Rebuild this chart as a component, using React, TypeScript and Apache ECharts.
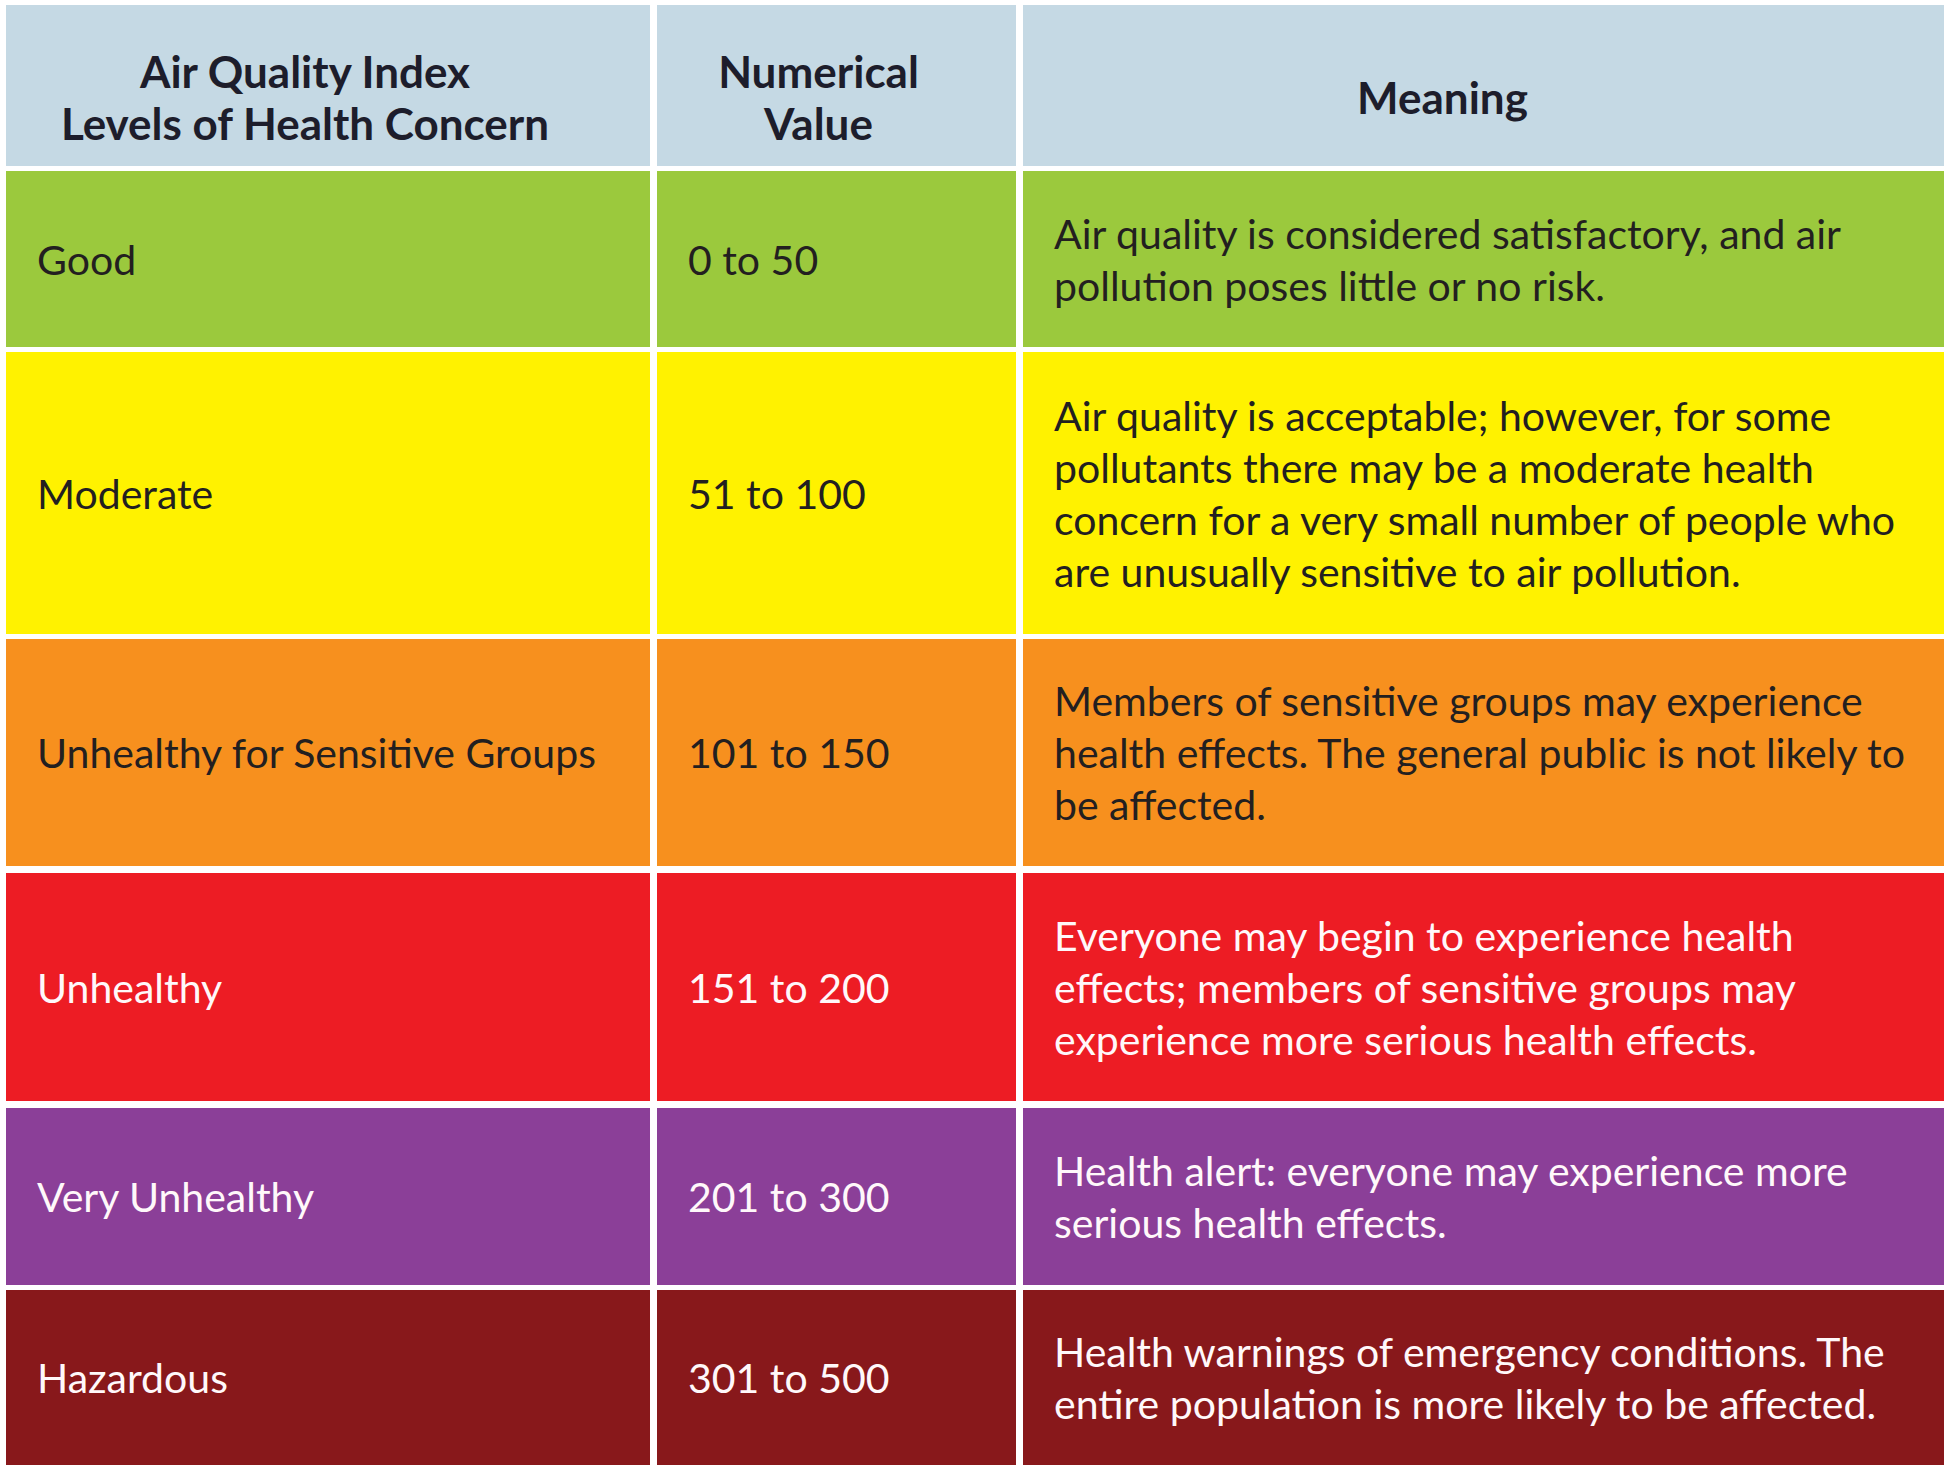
import React, { useEffect, useRef } from "react";
import * as echarts from "echarts";

// ---- content ----
const headers = [
  "Air Quality Index\nLevels of Health Concern",
  "Numerical\nValue",
  "Meaning",
];
const levels = [
  "Good",
  "Moderate",
  "Unhealthy for Sensitive Groups",
  "Unhealthy",
  "Very Unhealthy",
  "Hazardous",
];
const ranges = ["0 to 50", "51 to 100", "101 to 150", "151 to 200", "201 to 300", "301 to 500"];
const meanings = [
  "Air quality is considered satisfactory, and air\npollution poses little or no risk.",
  "Air quality is acceptable; however, for some\npollutants there may be a moderate health\nconcern for a very small number of people who\nare unusually sensitive to air pollution.",
  "Members of sensitive groups may experience\nhealth effects. The general public is not likely to\nbe affected.",
  "Everyone may begin to experience health\neffects; members of sensitive groups may\nexperience more serious health effects.",
  "Health alert: everyone may experience more\nserious health effects.",
  "Health warnings of emergency conditions. The\nentire population is more likely to be affected.",
];

// ---- styles ----
const rowColors = ["#9bc93d", "#fff200", "#f7901e", "#ed1c24", "#8b3f98", "#88181b"];
const rowTextColors = ["#231f20", "#231f20", "#231f20", "#fff8fa", "#fff8fa", "#fff8fa"];
const headerColor = "#c5d9e4";
const headerTextColor = "#1d1d2b";

// ---- layout (pixel units of the hidden axes) ----
const COL_EDGES = [
  [6, 650],
  [657, 1016],
  [1023, 1944],
];
const ROW_EDGES = [
  [5, 166],
  [171, 347],
  [352, 634],
  [639, 866],
  [873, 1101],
  [1108, 1285],
  [1290, 1465],
];
const HEADER_X_SHIFT = [-23, -18, -41];
const W = 1950;
const H = 1471;
const FONT = "Lato";

export default function App() {
  const ref = useRef<HTMLDivElement>(null);
  useEffect(() => {
    if (!ref.current) return;
    const chart = echarts.init(ref.current, null, { renderer: "svg" });
    const cells: number[][] = [];
    for (let r = 0; r < ROW_EDGES.length; r++) {
      for (let c = 0; c < COL_EDGES.length; c++) cells.push([c, r]);
    }
    const renderItem = (params: any, api: any) => {
      const c = api.value(0);
      const r = api.value(1);
      const p0 = api.coord([COL_EDGES[c][0], ROW_EDGES[r][0]]);
      const p1 = api.coord([COL_EDGES[c][1], ROW_EDGES[r][1]]);
      const x = Math.min(p0[0], p1[0]);
      const y = Math.min(p0[1], p1[1]);
      const w = Math.abs(p1[0] - p0[0]);
      const h = Math.abs(p1[1] - p0[1]);
      const isHeader = r === 0;
      let text = "";
      if (isHeader) text = headers[c];
      else if (c === 0) text = levels[r - 1];
      else if (c === 1) text = ranges[r - 1];
      else text = meanings[r - 1];
      const fill = isHeader ? headerColor : rowColors[r - 1];
      const tcol = isHeader ? headerTextColor : rowTextColors[r - 1];
      const children: any[] = [
        { type: "rect", shape: { x, y, width: w, height: h }, style: { fill } },
      ];
      children.push({
        type: "text",
        style: {
          text,
          x: isHeader ? x + w / 2 + HEADER_X_SHIFT[c] : x + 31,
          y: isHeader ? y + h / 2 + 11 : y + h / 2,
          fill: tcol,
          fontFamily: FONT,
          fontSize: isHeader ? 44 : 41,
          fontWeight: isHeader ? "bold" : "normal",
          lineHeight: 52,
          align: isHeader ? "center" : "left",
          verticalAlign: "middle",
        },
      });
      return { type: "group", children };
    };
    chart.setOption({
      animation: false,
      backgroundColor: "#ffffff",
      grid: { left: 0, right: 0, top: 0, bottom: 0 },
      xAxis: { type: "value", min: 0, max: W, show: false },
      yAxis: { type: "value", min: 0, max: H, inverse: true, show: false },
      series: [
        {
          type: "custom",
          renderItem,
          data: cells,
          clip: false,
          silent: true,
        },
      ],
    });
    return () => chart.dispose();
  }, []);
  return (
    <div
      ref={ref}
      style={{ position: "fixed", left: 0, top: 0, width: W, height: H, background: "#fff" }}
    />
  );
}
